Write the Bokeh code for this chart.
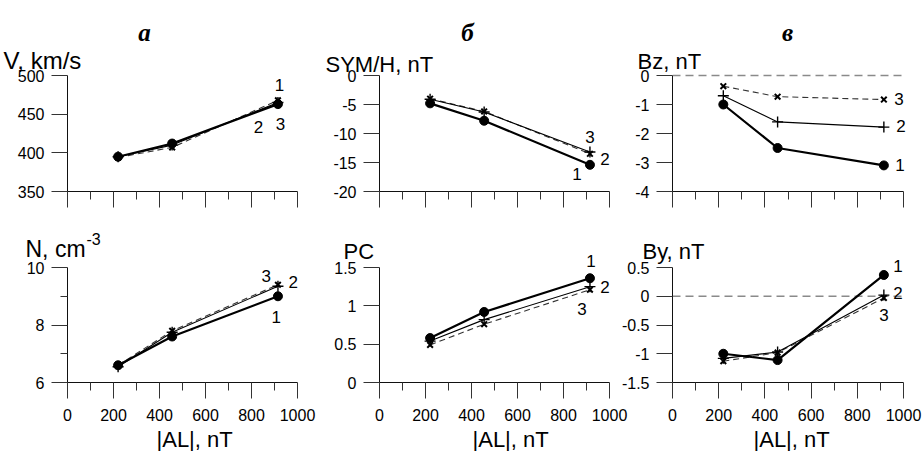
from bokeh.plotting import figure
from bokeh.models import Range1d, FixedTicker, Label
from bokeh.layouts import row, column
from bokeh.embed import file_html
from bokeh.resources import INLINE

# ---------------- data ----------------
AL = [220, 455, 915]                       # |AL|, nT (bin centres)
X_TICKS = [0, 200, 400, 600, 800, 1000]
X_MINOR = [100, 300, 500, 700, 900]
X_TICK_LABELS = ["0", "200", "400", "600", "800", "1000"]
X_TITLE = "|AL|, nT"
PANEL_LETTERS = ["а", "б", "в"]
SERIES_NAMES = ["1", "2", "3"]

V1 = [395, 412, 463]
V2 = [395, 410, 465]
V3 = [394, 407, 468]
V_TICKS = [350, 400, 450, 500]
V_TICK_LABELS = ["350", "400", "450", "500"]

SYM1 = [-4.8, -7.8, -15.4]
SYM2 = [-4.1, -6.3, -13.2]
SYM3 = [-4.0, -6.2, -13.5]
SYM_TICKS = [-20, -15, -10, -5, 0]
SYM_TICK_LABELS = ["-20", "-15", "-10", "-5", "0"]

BZ1 = [-1.0, -2.5, -3.1]
BZ2 = [-0.7, -1.6, -1.78]
BZ3 = [-0.37, -0.73, -0.83]
BZ_TICKS = [-4, -3, -2, -1, 0]
BZ_TICK_LABELS = ["-4", "-3", "-2", "-1", "0"]

N1 = [6.6, 7.6, 9.0]
N2 = [6.55, 7.75, 9.35]
N3 = [6.6, 7.8, 9.4]
N_TICKS = [6, 8, 10]
N_MINOR = [7, 9]
N_TICK_LABELS = ["6", "8", "10"]

PC1 = [0.58, 0.92, 1.36]
PC2 = [0.54, 0.82, 1.25]
PC3 = [0.49, 0.76, 1.21]
PC_TICKS = [0, 0.5, 1, 1.5]
PC_TICK_LABELS = ["0", "0.5", "1", "1.5"]

BY1 = [-1.0, -1.11, 0.37]
BY2 = [-1.08, -0.97, 0.02]
BY3 = [-1.13, -0.98, -0.03]
BY_TICKS = [-1.5, -1, -0.5, 0, 0.5]
BY_TICK_LABELS = ["-1.5", "-1", "-0.5", "0", "0.5"]

FONT = "Liberation Sans"
EXT_R = 14   # frame extends this many px right of the axis end (room for series labels)
EXT_T = 20   # frame extends this many px above the axis top


def panel(w, h, bl, br, bt, bb, axis_w, axis_h, yticks, ylabels, yminor,
          s1, s2, s3, offsets, show_x, zero_line=False):
    y0, y1 = yticks[0], yticks[-1]
    x0, x1 = X_TICKS[0], X_TICKS[-1]
    p = figure(width=w, height=h,
               x_range=Range1d(x0, x1 + EXT_R * (x1 - x0) / axis_w),
               y_range=Range1d(y0, y1 + EXT_T * (y1 - y0) / axis_h),
               output_backend="svg", toolbar_location=None, tools="",
               min_border_left=bl, min_border_right=br,
               min_border_top=bt, min_border_bottom=bb)
    p.outline_line_color = None
    p.grid.visible = False
    p.border_fill_color = None
    p.background_fill_color = None

    xa = p.xaxis[0]
    xa.bounds = (x0, x1)
    xa.ticker = FixedTicker(ticks=X_TICKS, minor_ticks=X_MINOR)
    xa.major_tick_out = 16
    xa.major_tick_in = 0
    xa.minor_tick_out = 8
    xa.minor_tick_in = 0
    xa.axis_line_color = "#111111"
    xa.major_tick_line_color = "#333333"
    xa.minor_tick_line_color = "#333333"
    if show_x:
        xa.major_label_overrides = dict(zip(X_TICKS, X_TICK_LABELS))
        xa.major_label_standoff = 10
        xa.major_label_text_font = FONT
        xa.major_label_text_font_size = "16px"
        xa.major_label_text_color = "black"
    else:
        xa.major_label_overrides = {t: "" for t in X_TICKS}
        xa.major_label_standoff = 0
        xa.major_label_text_font_size = "0px"

    ya = p.yaxis[0]
    ya.bounds = (y0, y1)
    ya.ticker = FixedTicker(ticks=yticks, minor_ticks=yminor)
    ya.major_label_overrides = dict(zip(yticks, ylabels))
    ya.major_tick_out = 16
    ya.major_tick_in = 0
    ya.minor_tick_out = 7
    ya.minor_tick_in = 0
    ya.axis_line_color = "#111111"
    ya.major_tick_line_color = "#333333"
    ya.minor_tick_line_color = "#333333"
    ya.major_label_standoff = 7
    ya.major_label_text_font = FONT
    ya.major_label_text_font_size = "16px"
    ya.major_label_text_color = "black"

    if zero_line:
        p.line([x0, x1], [0, 0], line_color="#8a8a8a", line_dash="8 5", line_width=1.3)

    p.line(AL, s3, line_width=1.1, line_dash="6 4", color="#333333")
    p.scatter(AL, s3, marker="x", size=8, line_width=2, color="black")
    p.line(AL, s2, line_width=1.1, color="black")
    p.scatter(AL, s2, marker="cross", size=11, line_width=1.4, color="black")
    p.line(AL, s1, line_width=2.2, color="black")
    p.scatter(AL, s1, marker="circle", size=9, color="black")

    for name, s, (dx, dy) in zip(SERIES_NAMES, (s1, s2, s3), offsets):
        p.add_layout(Label(x=AL[-1], y=s[-1], x_offset=dx, y_offset=-dy, text=name,
                           text_font=FONT, text_font_size="17px", text_align="center",
                           text_baseline="middle", text_color="black"))
    return p


# top row: frames x 67/379/672, axis y 75..191 ; bottom row: axis y 267..382
f1 = panel(315, 215, 67, 4, 55, 24, 230, 116, V_TICKS, V_TICK_LABELS, [],
           V1, V2, V3, [(1.6, -18.7), (-19.4, 24), (2.6, 24)], False)
f2 = panel(315, 215, 64, 7, 55, 24, 230, 116, SYM_TICKS, SYM_TICK_LABELS, [],
           SYM1, SYM2, SYM3, [(-13, 9), (15, 7.4), (0, -17)], False)
f3 = panel(292, 215, 42, 5, 55, 24, 231, 116, BZ_TICKS, BZ_TICK_LABELS, [],
           BZ1, BZ2, BZ3, [(16, 0), (17, -1), (15, -1)], False, zero_line=True)

g1 = panel(320, 236, 67, 9, 32, 69, 230, 115, N_TICKS, N_TICK_LABELS, N_MINOR,
           N1, N2, N3, [(-1.7, 20.7), (15.3, -4.2), (-11.7, -9.25)], True)
g2 = panel(310, 236, 59, 7, 32, 69, 230, 115, PC_TICKS, PC_TICK_LABELS, [],
           PC1, PC2, PC3, [(1, -17.7), (15, 0), (-8, 19)], True)
g3 = panel(307, 236, 57, 5, 32, 69, 231, 115, BY_TICKS, BY_TICK_LABELS, [],
           BY1, BY2, BY3, [(14, -9), (14, -2.6), (0, 17)], True, zero_line=True)
g3.margin = (0, 0, 0, -15)

# transparent page-size overlay that carries the titles lying outside the frames
PAGE_W, PAGE_H = 922, 451
ov = figure(width=PAGE_W, height=PAGE_H, x_range=Range1d(0, PAGE_W), y_range=Range1d(0, PAGE_H),
            output_backend="svg", toolbar_location=None, tools="",
            x_axis_type=None, y_axis_type=None, min_border=0)
ov.outline_line_color = None
ov.border_fill_color = None
ov.background_fill_color = None
ov.grid.visible = False
ov.margin = (-PAGE_H, 0, 0, 0)


def txt(X, Y, text, size, align="left", font=FONT, style="normal"):
    ov.add_layout(Label(x=X, y=PAGE_H - Y, x_units="screen", y_units="screen",
                        text=text, text_font=font, text_font_size=f"{size}px",
                        text_font_style=style, text_align=align,
                        text_baseline="alphabetic", text_color="black"))


for X, letter in zip((144, 467, 787), PANEL_LETTERS):
    txt(X, 32, letter, 25, "center", "Liberation Serif", "bold italic")

txt(3, 60, "V, km/s", 24)
txt(325, 64, "SYM/H, nT", 22)
txt(637, 61, "Bz, nT", 22)
txt(25, 248, "N, cm", 23)
txt(86, 238, "-3", 16)
txt(343, 251, "PC", 22)
txt(642, 251, "By, nT", 22)
for X in (156, 472, 753):
    txt(X, 439, X_TITLE, 22)

layout = column(row(f1, f2, f3), row(g1, g2, g3), ov)

open("out.html", "w").write(file_html(layout, INLINE))
